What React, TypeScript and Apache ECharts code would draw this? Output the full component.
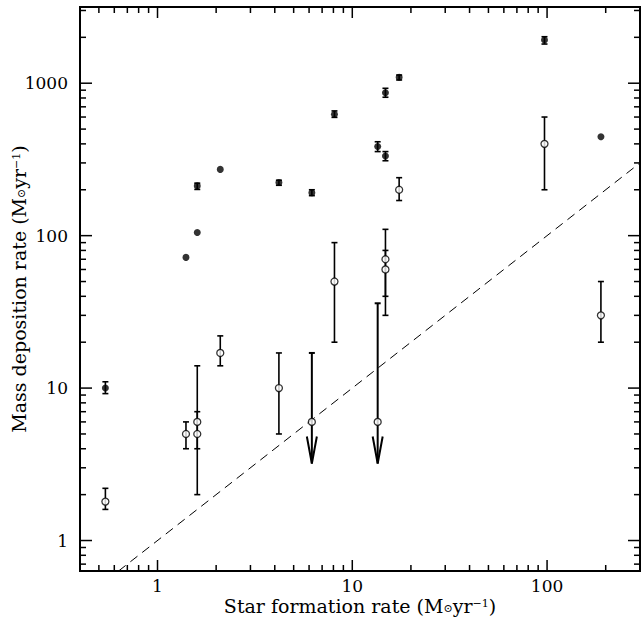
import React, { useEffect, useRef } from 'react';
import * as echarts from 'echarts';

// Axis ranges (log-log)
const X_MIN = 0.4;
const X_MAX = 300;
const Y_MIN = 0.631;
const Y_MAX = 3162;

// Tick positions and labels
const X_TICKS = [0.4, 0.5, 0.6, 0.7, 0.8, 0.9, 1, 2, 3, 4, 5, 6, 7, 8, 9, 10, 20, 30, 40, 50, 60, 70, 80, 90, 100, 200, 300];
const Y_TICKS = [0.7, 0.8, 0.9, 1, 2, 3, 4, 5, 6, 7, 8, 9, 10, 20, 30, 40, 50, 60, 70, 80, 90, 100, 200, 300, 400, 500, 600, 700, 800, 900, 1000, 2000, 3000];
const X_LABELS = [1, 10, 100];
const Y_LABELS = [1, 10, 100, 1000];

// Filled points (with small error bars)
const FILLED_X = [0.54, 1.4, 1.6, 1.6, 2.1, 4.2, 6.2, 8.1, 13.5, 14.8, 14.8, 17.4, 97, 189];
const FILLED_Y = [10, 72, 105, 212, 272, 223, 191, 625, 384, 333, 866, 1094, 1920, 446];
const FILLED_LO = [9.2, 72, 105, 201, 272, 214, 183, 597, 356, 310, 809, 1050, 1807, 446];
const FILLED_HI = [11, 72, 105, 221, 272, 231, 200, 658, 413, 356, 926, 1132, 2018, 446];

// Open points (with error bars)
const OPEN_X = [0.54, 1.4, 1.6, 1.6, 2.1, 4.2, 8.1, 14.8, 14.8, 17.4, 97, 189];
const OPEN_Y = [1.8, 5, 6, 5, 17, 10, 50, 70, 60, 200, 400, 30];
const OPEN_LO = [1.6, 4, 4, 2, 14, 5, 20, 40, 30, 170, 200, 20];
const OPEN_HI = [2.2, 6, 14, 7, 22, 17, 90, 110, 80, 240, 600, 50];

// Upper limits (open points with downward arrows)
const LIMIT_X = [6.2, 13.5];
const LIMIT_Y = [6, 6];
const LIMIT_TOP = [17, 36];
const LIMIT_TIP = [3.2, 3.2];

// One-to-one reference line (MDR = SFR)
const ONE_TO_ONE = [Y_MIN, X_MAX];

const FONT = "'DejaVu Serif', serif";
const BLACK = '#000';

const isDecade = (v: number) => Math.abs(Math.log10(v) - Math.round(Math.log10(v))) < 1e-9;
const labelFmt = (labels: number[]) => (v: number) => {
  const hit = labels.find((l) => Math.abs(Math.log10(v) - Math.log10(l)) < 1e-6);
  return hit !== undefined ? String(hit) : '';
};

const richUnits = {
  sub: { fontSize: 11, fontFamily: FONT, color: BLACK, verticalAlign: 'bottom', lineHeight: 6 },
  sup: { fontSize: 11, fontFamily: FONT, color: BLACK, verticalAlign: 'top', lineHeight: 10 },
  n: { fontSize: 19, fontFamily: FONT, color: BLACK, lineHeight: 16 },
};

export default function App() {
  const ref = useRef<HTMLDivElement>(null);

  useEffect(() => {
    if (!ref.current) return;
    const chart = echarts.init(ref.current, undefined, { renderer: 'svg' });

    const lineStyle = { stroke: BLACK, lineWidth: 1.6 };

    const errData = [
      ...FILLED_X.map((x, i) => [x, FILLED_LO[i], FILLED_HI[i]]),
      ...OPEN_X.map((x, i) => [x, OPEN_LO[i], OPEN_HI[i]]),
    ].filter((d) => d[1] !== d[2]);

    const axisCommon = {
      type: 'log' as const,
      logBase: 10,
      splitLine: { show: false },
      axisLine: { show: false },
      axisTick: { show: false },
      minorTick: { show: false },
      nameMoveOverlap: false,
    };

    const option: any = {
      animation: false,
      backgroundColor: '#fff',
      grid: {
        left: 80,
        right: 4,
        top: 7,
        bottom: 54,
        containLabel: false,
        outerBoundsMode: 'none',
        show: true,
        borderColor: BLACK,
        borderWidth: 2,
        backgroundColor: 'transparent',
      },
      xAxis: {
        ...axisCommon,
        min: X_MIN,
        max: X_MAX,
        axisLabel: {
          show: true,
          showMinLabel: false,
          showMaxLabel: false,
          margin: 9,
          color: BLACK,
          fontFamily: FONT,
          fontSize: 17,
          lineHeight: 12,
          formatter: labelFmt(X_LABELS),
        },
        name: 'Star formation rate (M{sub|⊙}{n|yr}{sup|−1}{n|)}',
        nameLocation: 'middle',
        nameGap: 27,
        nameTextStyle: { color: BLACK, fontFamily: FONT, fontSize: 19, lineHeight: 16, rich: richUnits },
      },
      yAxis: {
        ...axisCommon,
        min: Y_MIN,
        max: Y_MAX,
        axisLabel: {
          show: true,
          showMinLabel: false,
          showMaxLabel: false,
          margin: 12,
          color: BLACK,
          fontFamily: FONT,
          fontSize: 17,
          formatter: labelFmt(Y_LABELS),
        },
        name: 'Mass deposition rate (M{sub|⊙}{n|yr}{sup|−1}{n|)}',
        nameLocation: 'middle',
        nameRotate: 90,
        nameGap: 53.5,
        nameTextStyle: { color: BLACK, fontFamily: FONT, fontSize: 19, lineHeight: 16, rich: richUnits },
      },
      series: [
        {
          type: 'line',
          data: ONE_TO_ONE.map((v) => [v, v]),
          symbol: 'none',
          silent: true,
          lineStyle: { color: BLACK, width: 1, type: [9, 6] },
          z: 1,
        },
        {
          type: 'custom',
          data: X_TICKS.map((v) => [v, Y_MIN]),
          silent: true,
          z: 5,
          renderItem: (_p: any, api: any) => {
            const v = api.value(0);
            const len = isDecade(v) ? 11 : 6;
            const b = api.coord([v, Y_MIN]);
            const t = api.coord([v, Y_MAX]);
            return {
              type: 'group',
              children: [
                { type: 'line', shape: { x1: b[0], y1: b[1], x2: b[0], y2: b[1] - len }, style: { stroke: BLACK, lineWidth: 1.5 } },
                { type: 'line', shape: { x1: t[0], y1: t[1], x2: t[0], y2: t[1] + len }, style: { stroke: BLACK, lineWidth: 1.5 } },
              ],
            };
          },
        },
        {
          type: 'custom',
          data: Y_TICKS.map((v) => [X_MIN, v]),
          silent: true,
          z: 5,
          renderItem: (_p: any, api: any) => {
            const v = api.value(1);
            const len = isDecade(v) ? 12 : 6;
            const l = api.coord([X_MIN, v]);
            const r = api.coord([X_MAX, v]);
            return {
              type: 'group',
              children: [
                { type: 'line', shape: { x1: l[0], y1: l[1], x2: l[0] + len, y2: l[1] }, style: { stroke: BLACK, lineWidth: 1.5 } },
                { type: 'line', shape: { x1: r[0], y1: r[1], x2: r[0] - len, y2: r[1] }, style: { stroke: BLACK, lineWidth: 1.5 } },
              ],
            };
          },
        },
        {
          type: 'custom',
          data: errData,
          silent: true,
          z: 3,
          renderItem: (_p: any, api: any) => {
            const x = api.value(0);
            const lo = api.coord([x, api.value(1)]);
            const hi = api.coord([x, api.value(2)]);
            const w = 3;
            return {
              type: 'group',
              children: [
                { type: 'line', shape: { x1: lo[0], y1: lo[1], x2: hi[0], y2: hi[1] }, style: lineStyle },
                { type: 'line', shape: { x1: lo[0] - w, y1: lo[1], x2: lo[0] + w, y2: lo[1] }, style: lineStyle },
                { type: 'line', shape: { x1: hi[0] - w, y1: hi[1], x2: hi[0] + w, y2: hi[1] }, style: lineStyle },
              ],
            };
          },
        },
        {
          type: 'custom',
          data: LIMIT_X.map((x, i) => [x, LIMIT_TOP[i], LIMIT_TIP[i]]),
          silent: true,
          z: 3,
          renderItem: (_p: any, api: any) => {
            const x = api.value(0);
            const top = api.coord([x, api.value(1)]);
            const tip = api.coord([x, api.value(2)]);
            const w = 3;
            const st = { stroke: BLACK, lineWidth: 2, fill: 'none' };
            return {
              type: 'group',
              children: [
                { type: 'line', shape: { x1: top[0], y1: top[1], x2: tip[0], y2: tip[1] }, style: st },
                { type: 'line', shape: { x1: top[0] - w, y1: top[1], x2: top[0] + w, y2: top[1] }, style: st },
                {
                  type: 'polyline',
                  shape: { points: [[tip[0] - 5, tip[1] - 27], [tip[0], tip[1]], [tip[0] + 5, tip[1] - 27]] },
                  style: st,
                },
              ],
            };
          },
        },
        {
          type: 'scatter',
          data: OPEN_X.map((x, i) => [x, OPEN_Y[i]]),
          symbol: 'circle',
          symbolSize: 7,
          silent: true,
          itemStyle: { color: '#fff', borderColor: BLACK, borderWidth: 1.3 },
          z: 4,
        },
        {
          type: 'scatter',
          data: LIMIT_X.map((x, i) => [x, LIMIT_Y[i]]),
          symbol: 'circle',
          symbolSize: 7,
          silent: true,
          itemStyle: { color: '#fff', borderColor: BLACK, borderWidth: 1.3 },
          z: 4,
        },
        {
          type: 'scatter',
          data: FILLED_X.map((x, i) => [x, FILLED_Y[i]]),
          symbol: 'circle',
          symbolSize: 7,
          silent: true,
          itemStyle: { color: BLACK },
          z: 4,
        },
      ],
    };

    chart.setOption(option);
    return () => chart.dispose();
  }, []);

  return (
    <div
      ref={ref}
      style={{ position: 'fixed', left: 0, top: 0, width: 644, height: 625, background: '#fff' }}
    />
  );
}
